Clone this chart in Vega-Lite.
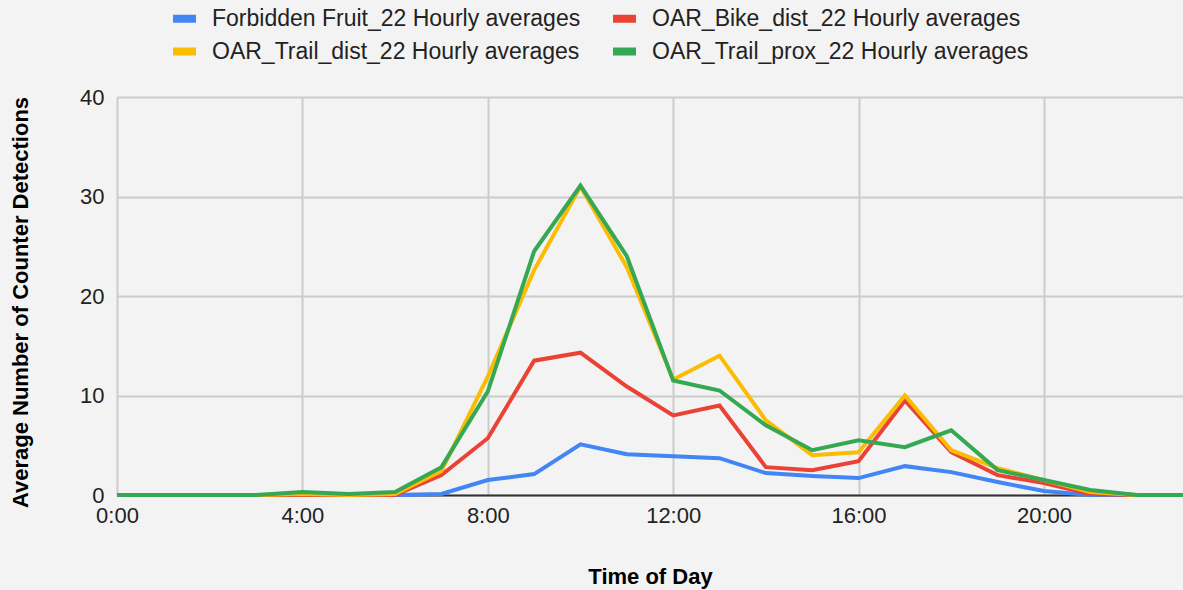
{
  "$schema": "https://vega.github.io/schema/vega-lite/v6.json",
  "width": 1066,
  "height": 398,
  "autosize": {"type": "none"},
  "padding": {"left": 117, "top": 97, "right": 0, "bottom": 95},
  "background": "#f3f3f3",
  "config": {"view": {"stroke": null}, "font": "Liberation Sans"},
  "data": {
    "values": [
      {"hour": 0, "Forbidden Fruit_22 Hourly averages": 0, "OAR_Bike_dist_22 Hourly averages": 0, "OAR_Trail_dist_22 Hourly averages": 0, "OAR_Trail_prox_22 Hourly averages": 0},
      {"hour": 1, "Forbidden Fruit_22 Hourly averages": 0, "OAR_Bike_dist_22 Hourly averages": 0, "OAR_Trail_dist_22 Hourly averages": 0, "OAR_Trail_prox_22 Hourly averages": 0},
      {"hour": 2, "Forbidden Fruit_22 Hourly averages": 0, "OAR_Bike_dist_22 Hourly averages": 0, "OAR_Trail_dist_22 Hourly averages": 0, "OAR_Trail_prox_22 Hourly averages": 0},
      {"hour": 3, "Forbidden Fruit_22 Hourly averages": 0, "OAR_Bike_dist_22 Hourly averages": 0, "OAR_Trail_dist_22 Hourly averages": 0, "OAR_Trail_prox_22 Hourly averages": 0},
      {"hour": 4, "Forbidden Fruit_22 Hourly averages": 0, "OAR_Bike_dist_22 Hourly averages": 0, "OAR_Trail_dist_22 Hourly averages": 0.1, "OAR_Trail_prox_22 Hourly averages": 0.3},
      {"hour": 5, "Forbidden Fruit_22 Hourly averages": 0, "OAR_Bike_dist_22 Hourly averages": 0, "OAR_Trail_dist_22 Hourly averages": 0, "OAR_Trail_prox_22 Hourly averages": 0.1},
      {"hour": 6, "Forbidden Fruit_22 Hourly averages": 0, "OAR_Bike_dist_22 Hourly averages": 0, "OAR_Trail_dist_22 Hourly averages": 0.1, "OAR_Trail_prox_22 Hourly averages": 0.3},
      {"hour": 7, "Forbidden Fruit_22 Hourly averages": 0.1, "OAR_Bike_dist_22 Hourly averages": 2.0, "OAR_Trail_dist_22 Hourly averages": 2.4, "OAR_Trail_prox_22 Hourly averages": 2.8},
      {"hour": 8, "Forbidden Fruit_22 Hourly averages": 1.5, "OAR_Bike_dist_22 Hourly averages": 5.7, "OAR_Trail_dist_22 Hourly averages": 11.9, "OAR_Trail_prox_22 Hourly averages": 10.4},
      {"hour": 9, "Forbidden Fruit_22 Hourly averages": 2.1, "OAR_Bike_dist_22 Hourly averages": 13.5, "OAR_Trail_dist_22 Hourly averages": 22.6, "OAR_Trail_prox_22 Hourly averages": 24.5},
      {"hour": 10, "Forbidden Fruit_22 Hourly averages": 5.1, "OAR_Bike_dist_22 Hourly averages": 14.3, "OAR_Trail_dist_22 Hourly averages": 31.0, "OAR_Trail_prox_22 Hourly averages": 31.1},
      {"hour": 11, "Forbidden Fruit_22 Hourly averages": 4.1, "OAR_Bike_dist_22 Hourly averages": 10.9, "OAR_Trail_dist_22 Hourly averages": 22.9, "OAR_Trail_prox_22 Hourly averages": 24.0},
      {"hour": 12, "Forbidden Fruit_22 Hourly averages": 3.9, "OAR_Bike_dist_22 Hourly averages": 8.0, "OAR_Trail_dist_22 Hourly averages": 11.6, "OAR_Trail_prox_22 Hourly averages": 11.5},
      {"hour": 13, "Forbidden Fruit_22 Hourly averages": 3.7, "OAR_Bike_dist_22 Hourly averages": 9.0, "OAR_Trail_dist_22 Hourly averages": 14.0, "OAR_Trail_prox_22 Hourly averages": 10.5},
      {"hour": 14, "Forbidden Fruit_22 Hourly averages": 2.2, "OAR_Bike_dist_22 Hourly averages": 2.8, "OAR_Trail_dist_22 Hourly averages": 7.5, "OAR_Trail_prox_22 Hourly averages": 7.0},
      {"hour": 15, "Forbidden Fruit_22 Hourly averages": 1.9, "OAR_Bike_dist_22 Hourly averages": 2.5, "OAR_Trail_dist_22 Hourly averages": 4.0, "OAR_Trail_prox_22 Hourly averages": 4.5},
      {"hour": 16, "Forbidden Fruit_22 Hourly averages": 1.7, "OAR_Bike_dist_22 Hourly averages": 3.4, "OAR_Trail_dist_22 Hourly averages": 4.3, "OAR_Trail_prox_22 Hourly averages": 5.5},
      {"hour": 17, "Forbidden Fruit_22 Hourly averages": 2.9, "OAR_Bike_dist_22 Hourly averages": 9.5, "OAR_Trail_dist_22 Hourly averages": 10.0, "OAR_Trail_prox_22 Hourly averages": 4.8},
      {"hour": 18, "Forbidden Fruit_22 Hourly averages": 2.3, "OAR_Bike_dist_22 Hourly averages": 4.3, "OAR_Trail_dist_22 Hourly averages": 4.5, "OAR_Trail_prox_22 Hourly averages": 6.5},
      {"hour": 19, "Forbidden Fruit_22 Hourly averages": 1.3, "OAR_Bike_dist_22 Hourly averages": 2.0, "OAR_Trail_dist_22 Hourly averages": 2.7, "OAR_Trail_prox_22 Hourly averages": 2.5},
      {"hour": 20, "Forbidden Fruit_22 Hourly averages": 0.4, "OAR_Bike_dist_22 Hourly averages": 1.2, "OAR_Trail_dist_22 Hourly averages": 1.5, "OAR_Trail_prox_22 Hourly averages": 1.5},
      {"hour": 21, "Forbidden Fruit_22 Hourly averages": 0, "OAR_Bike_dist_22 Hourly averages": 0.1, "OAR_Trail_dist_22 Hourly averages": 0.3, "OAR_Trail_prox_22 Hourly averages": 0.5},
      {"hour": 22, "Forbidden Fruit_22 Hourly averages": 0, "OAR_Bike_dist_22 Hourly averages": 0, "OAR_Trail_dist_22 Hourly averages": 0, "OAR_Trail_prox_22 Hourly averages": 0},
      {"hour": 23, "Forbidden Fruit_22 Hourly averages": 0, "OAR_Bike_dist_22 Hourly averages": 0, "OAR_Trail_dist_22 Hourly averages": 0, "OAR_Trail_prox_22 Hourly averages": 0}
    ]
  },
  "transform": [
    {"fold": ["Forbidden Fruit_22 Hourly averages", "OAR_Bike_dist_22 Hourly averages", "OAR_Trail_dist_22 Hourly averages", "OAR_Trail_prox_22 Hourly averages"], "as": ["series", "value"]}
  ],
  "mark": {"type": "line", "strokeWidth": 4},
  "encoding": {
    "x": {
      "field": "hour",
      "type": "quantitative",
      "scale": {"domain": [0, 23], "nice": false, "zero": false},
      "axis": {
        "title": "Time of Day",
        "values": [0, 4, 8, 12, 16, 20],
        "labelExpr": "datum.value + ':00'",
        "grid": true,
        "gridColor": "#cccccc",
        "gridWidth": 2,
        "ticks": false,
        "domain": true,
        "domainColor": "#333333",
        "domainWidth": 2,
        "labelFontSize": 22,
        "labelColor": "#222222",
        "labelPadding": 10,
        "labelFlush": false,
        "titleFontSize": 22,
        "titleFontWeight": "bold",
        "titleColor": "#000000",
        "titleX": 533,
        "titleY": 81,
        "titleAlign": "center",
        "titleBaseline": "middle"
      }
    },
    "y": {
      "field": "value",
      "type": "quantitative",
      "scale": {"domain": [0, 40], "nice": false},
      "axis": {
        "title": "Average Number of Counter Detections",
        "values": [0, 10, 20, 30, 40],
        "grid": true,
        "gridColor": "#cccccc",
        "gridWidth": 2,
        "ticks": false,
        "domain": false,
        "labelFontSize": 22,
        "labelColor": "#222222",
        "labelPadding": 13,
        "titleFontSize": 22,
        "titleFontWeight": "bold",
        "titleColor": "#000000",
        "titleX": -97,
        "titleY": 205,
        "titleAngle": -90,
        "titleAlign": "center",
        "titleBaseline": "middle"
      }
    },
    "color": {
      "field": "series",
      "type": "nominal",
      "scale": {
        "domain": ["Forbidden Fruit_22 Hourly averages", "OAR_Bike_dist_22 Hourly averages", "OAR_Trail_dist_22 Hourly averages", "OAR_Trail_prox_22 Hourly averages"],
        "range": ["#4285f4", "#ea4335", "#fbbc04", "#34a853"]
      },
      "legend": {
        "title": null,
        "orient": "none",
        "direction": "horizontal",
        "legendX": 52,
        "legendY": -94,
        "columns": 2,
        "columnPadding": 16,
        "rowPadding": 0,
        "labelFontSize": 23,
        "labelColor": "#222222",
        "labelLimit": 600,
        "labelOffset": 12,
        "symbolType": "stroke",
        "symbolSize": 529,
        "symbolStrokeWidth": 8
      }
    }
  }
}
